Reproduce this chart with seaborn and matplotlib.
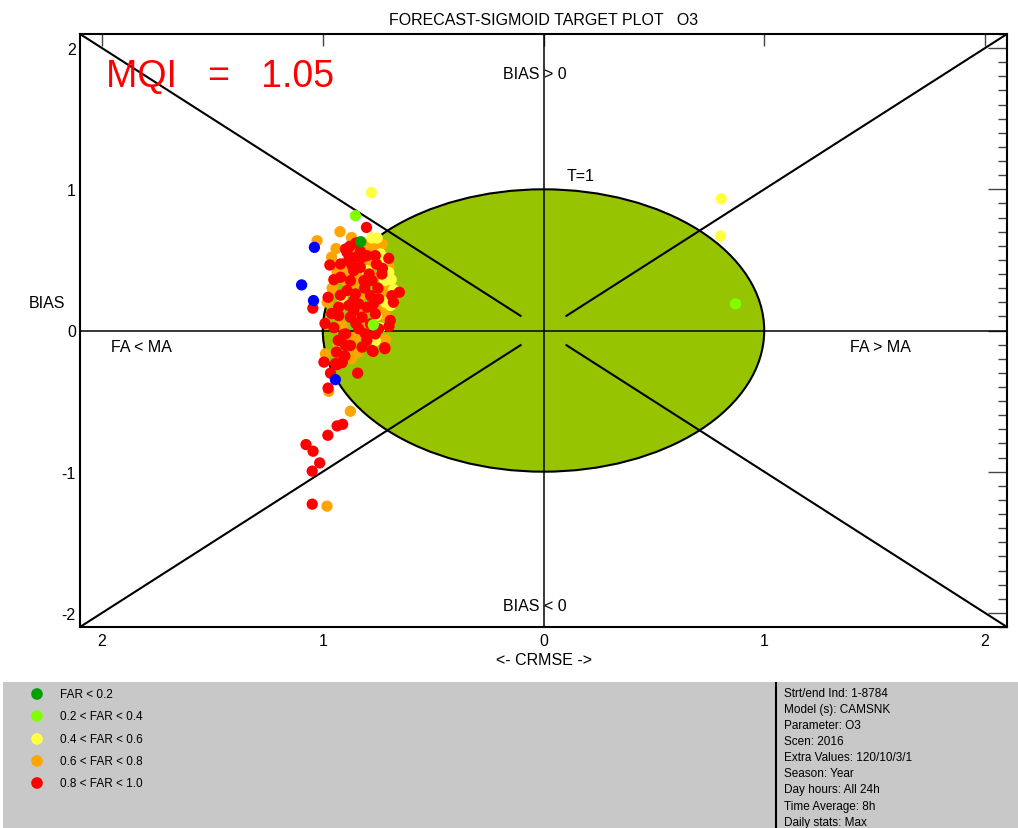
import matplotlib
matplotlib.use("Agg")
import matplotlib.pyplot as plt
from matplotlib.patches import Ellipse
from matplotlib.ticker import MultipleLocator
import pandas as pd
import seaborn as sns

# ---- station results: (CRMSE-side x, normalised BIAS y) per FAR class ----
blue_x = [-1.096, -1.038, -1.042, -0.943]
blue_y = [0.323, 0.589, 0.212, -0.348]

green_x = [-0.828]
green_y = [0.629]

lgreen_x = [-0.852, -0.771, 0.870]
lgreen_y = [0.813, 0.040, 0.189]

yellow_x = [-0.780, 0.805, 0.802, -0.777, -0.754, -0.800, -0.701, -0.716,
            -0.694, -0.913, -0.762, -0.739, -0.719, -0.679, -0.756,
            -0.720, -0.690, -0.740]
yellow_y = [0.977, 0.933, 0.669, 0.655, 0.655, 0.424, 0.412, 0.200,
            0.177, 0.235, -0.071, 0.542, 0.353, 0.290, 0.106,
            0.500, 0.360, 0.020]

orange_x = [-0.922, -1.026, -0.870, -0.810, -0.769, -0.958, -0.747, -0.724,
            -0.837, -0.935, -0.897, -0.769, -0.706, -0.814, -0.762, -0.875,
            -0.709, -0.913, -0.852, -0.716, -0.837, -0.732, -0.988, -0.840,
            -0.792, -0.897, -0.795, -0.973, -0.875, -0.981, -0.730, -0.860,
            -0.960, -0.940, -0.890, -0.780, -0.740, -0.700, -0.820, -0.930,
            -0.780, -0.870, -0.700, -0.980, -0.860]
orange_y = [0.700, 0.636, 0.659, 0.565, 0.589, 0.299, 0.507, 0.429,
            0.389, 0.412, 0.483, 0.377, 0.330, 0.259, 0.247, 0.295,
            0.094, 0.035, -0.047, -0.066, 0.129, 0.146, -0.165, -0.153,
            0.459, 0.353, 0.613, -0.431, -0.572, -1.244, 0.610, 0.560,
            0.520, 0.580, 0.420, 0.520, 0.250, 0.450, 0.020, -0.100,
            -0.100, -0.200, 0.290, 0.200, 0.330]

red_x = [-0.802, -0.878, -0.890, -0.968, -0.701, -0.976, -1.045, -0.653,
         -0.920, -0.867, -0.830, -0.757, -0.920, -0.875, -0.814, -0.777,
         -0.822, -0.852, -0.890, -0.852, -0.784, -0.747, -0.928, -0.882,
         -0.837, -0.800, -0.762, -0.694, -0.928, -0.875, -0.822, -0.784,
         -0.747, -0.837, -0.897, -0.807, -0.762, -0.938, -0.875, -0.822,
         -0.777, -0.719, -0.995, -0.943, -0.913, -0.965, -0.842, -0.882,
         -0.800, -0.762, -0.897, -0.860, -0.732, -0.687, -0.935, -0.913,
         -0.976, -0.935, -0.910, -0.977, -1.076, -1.044, -1.014, -1.048,
         -1.048, -0.719, -0.772, -0.897, -0.905,
         -0.950, -0.960, -0.950, -0.930, -0.860, -0.810, -0.790, -0.850,
         -0.830, -0.750, -0.680, -0.700, -0.730, -0.860, -0.800, -0.920,
         -0.990, -0.900, -0.850, -0.770]
red_y = [0.730, 0.596, 0.553, 0.464, 0.511, 0.235, 0.158, 0.271,
         0.471, 0.459, 0.447, 0.471, 0.377, 0.353, 0.353, 0.353,
         0.518, 0.518, 0.283, 0.259, 0.247, 0.224, 0.165, 0.177,
         0.188, 0.165, 0.118, 0.071, 0.106, 0.094, 0.094, 0.047,
         0.012, 0.012, -0.024, -0.024, -0.024, -0.153, -0.106, -0.118,
         -0.141, -0.129, -0.224, -0.235, -0.224, -0.302, -0.302, 0.495,
         0.530, 0.530, 0.577, 0.424, 0.400, 0.247, -0.242, -0.228,
         -0.408, -0.676, -0.664, -0.742, -0.808, -0.855, -0.938, -0.996,
         -1.230, -0.122, -0.148, -0.106, -0.028,
         0.360, 0.120, 0.020, -0.070, 0.210, 0.300, 0.400, 0.620,
         0.560, 0.300, 0.200, 0.030, 0.440, 0.140, -0.070, 0.250,
         0.050, -0.180, 0.050, 0.190]

far_classes = ["FAR < 0.2", "0.2 < FAR < 0.4", "0.4 < FAR < 0.6",
               "0.6 < FAR < 0.8", "0.8 < FAR < 1.0"]
far_colors = ["#00A000", "#80FF00", "#FFFF40", "#FFA500", "#FF0000"]

info_lines = ["Strt/end Ind: 1-8784", "Model (s): CAMSNK", "Parameter: O3",
              "Scen: 2016", "Extra Values: 120/10/3/1", "Season: Year",
              "Day hours: All 24h", "Time Average: 8h", "Daily stats: Max"]

mqi_value = 1.05

# ---- assemble the points in drawing order ----
groups = [("orange", orange_x, orange_y), ("yellow", yellow_x, yellow_y),
          ("red", red_x, red_y), ("lgreen", lgreen_x, lgreen_y),
          ("green", green_x, green_y), ("blue", blue_x, blue_y)]
df = pd.concat([pd.DataFrame({"x": gx, "y": gy, "cls": name})
                for name, gx, gy in groups], ignore_index=True)
palette = {"green": far_colors[0], "lgreen": far_colors[1],
           "yellow": far_colors[2], "orange": far_colors[3],
           "red": far_colors[4], "blue": "#0000FF"}

sns.set_style("white")
plt.rcParams["font.family"] = ["Liberation Sans", "DejaVu Sans"]
plt.rcParams["text.color"] = "black"

W, H = 1018, 829
fig = plt.figure(figsize=(W / 100, H / 100), dpi=100)
ax = fig.add_axes([80 / W, 1 - 628 / H, (1007 - 80) / W, (628 - 35) / H])

lim = 2.1
ax.set_xlim(-lim, lim)
ax.set_ylim(-lim, lim)

# target circle of radius 1
ax.add_patch(Ellipse((0, 0), 2, 2, facecolor="#96C400", edgecolor="black",
                     lw=1.5, zorder=1))

# reference axes and diagonals
ax.axhline(0, color="black", lw=1.1, zorder=2)
ax.axvline(0, color="black", lw=1.1, zorder=2)
for sx in (-1, 1):
    for sy in (-1, 1):
        ax.plot([0.1 * sx, lim * sx], [0.1 * sy, lim * sy], color="black",
                lw=1.5, zorder=2, solid_capstyle="butt")

sns.scatterplot(data=df, x="x", y="y", hue="cls", palette=palette, s=66,
                linewidth=0, legend=False, ax=ax, zorder=3)

# annotations
ax.text(-0.04, 1.82, "BIAS > 0", ha="center", va="center", fontsize=11.5)
ax.text(-0.04, -1.95, "BIAS < 0", ha="center", va="center", fontsize=11.5)
ax.text(0.167, 1.095, "T=1", ha="center", va="center", fontsize=11.5)
ax.text(-1.82, -0.113, "FA < MA", ha="center", va="center", fontsize=11.5)
ax.text(1.525, -0.113, "FA > MA", ha="center", va="center", fontsize=11.5)
ax.text(-1.98, 1.80, f"MQI   =   {mqi_value:.2f}", ha="left", va="center",
        fontsize=27, color="#FF0000")

# ticks
ax.set_xticks([-2, -1, 0, 1, 2])
ax.set_xticklabels(["2", "1", "0", "1", "2"])
ax.set_yticks([-2, -1, 0, 1, 2])
ax.set_yticklabels(["-2", "-1", "0", "1", "2"])
ax.yaxis.set_minor_locator(MultipleLocator(0.1))
ax.tick_params(axis="both", which="both", direction="in", top=True,
               right=True, labelsize=11.5, color="#444444", labelcolor="black",
               width=1)
ax.tick_params(axis="y", which="major", length=13.5, pad=3)
ax.tick_params(axis="y", which="minor", length=6.5)
ax.tick_params(axis="x", which="major", length=8.5, pad=4)
ax.tick_params(axis="x", which="minor", length=0)
for sp in ax.spines.values():
    sp.set_color("black")
    sp.set_linewidth(1.5)

ax.set_xlabel("<- CRMSE ->", fontsize=11.5, labelpad=3, color="black")
ax.set_ylabel("")
ax.set_title("FORECAST-SIGMOID TARGET PLOT   O3", fontsize=11.5, pad=7,
             color="black")
fig.text(47 / W, 1 - 303 / H, "BIAS", ha="center", va="center", fontsize=11.5)

# ---- information panel ----
pan = fig.add_axes([3 / W, 0, (W - 3) / W, (H - 683) / H])
pan.set_facecolor("#C8C8C8")
pan.set_xlim(3, W)
pan.set_ylim(H, 683)
pan.set_xticks([])
pan.set_yticks([])
for sp in pan.spines.values():
    sp.set_visible(False)
pan.plot([776, 776], [683, H], color="black", lw=1.5)

narrow = ["Liberation Sans Narrow", "Liberation Sans", "DejaVu Sans"]
leg_y = [695, 717, 740, 762, 784]
pan.scatter([37] * len(leg_y), leg_y, s=70, c=far_colors, linewidths=0)
for yy, lab in zip(leg_y, far_classes):
    pan.text(60, yy, lab, ha="left", va="center", fontsize=8.5, family=narrow)

info_y = [694, 710, 726, 742, 758, 774, 790, 807, 823]
for yy, lab in zip(info_y, info_lines):
    pan.text(784, yy, lab, ha="left", va="center", fontsize=8.5, family=narrow)

fig.savefig("out.png", dpi=100)
